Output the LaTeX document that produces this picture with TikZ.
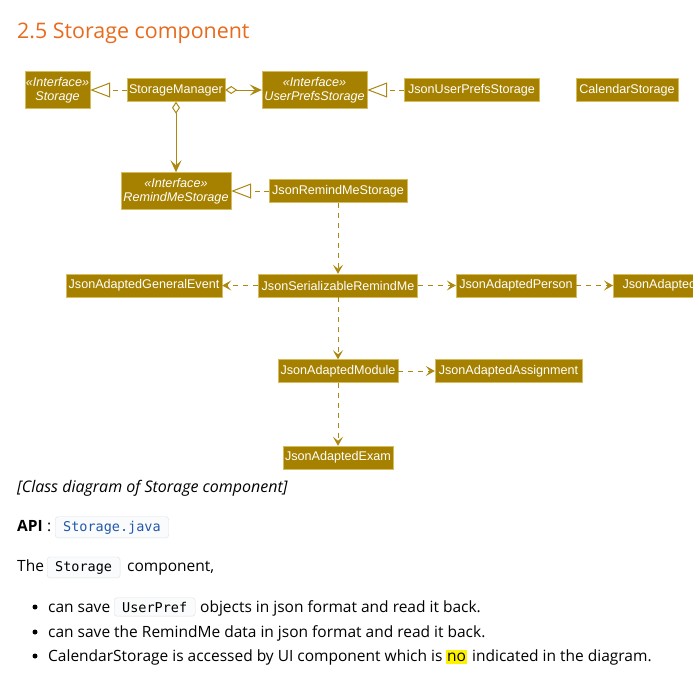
\documentclass[tikz,border=0pt]{standalone}
\usepackage{fontspec}
\setmainfont{Open Sans}
\setsansfont{Liberation Sans}
\setmonofont{DejaVu Sans Mono}
\usetikzlibrary{arrows.meta}

\definecolor{clsfill}{RGB}{166,129,0}
\definecolor{clsline}{RGB}{214,188,96}
\definecolor{linkcol}{RGB}{172,136,16}
\definecolor{titlecol}{RGB}{232,106,28}
\definecolor{codeblue}{RGB}{36,88,170}
\definecolor{codeedge}{RGB}{222,225,229}
\definecolor{codefill}{RGB}{250,251,252}

\tikzset{
	cls/.style={draw=clsline, fill=clsfill, text=white, inner sep=0pt,
		font=\sffamily\fontsize{12.6}{14}\selectfont, minimum height=23pt},
	iface/.style={cls, align=center, minimum height=37pt,
		font=\sffamily\itshape\fontsize{12.6}{14}\selectfont},
	impl/.style={draw=linkcol, line width=1pt, dash pattern=on 5pt off 4pt,
		-{Triangle[open, length=20pt, width=15pt]}},
	dep/.style={draw=linkcol, line width=1pt, dash pattern=on 5pt off 5pt,
		-{Stealth[length=9pt, width=10pt, inset=4pt]}},
	agg/.style={draw=linkcol, line width=1pt,
		{Diamond[open, length=12pt, width=8pt]}-{Stealth[length=12pt, width=11pt, inset=5pt]}},
	txt/.style={inner sep=0pt, anchor=base west, font=\fontsize{15.5}{18}\selectfont},
	code/.style={txt, draw=codeedge, fill=codefill, rounded corners=3pt,
		inner xsep=8pt, inner ysep=4pt, font=\ttfamily\fontsize{13.5}{16}\selectfont}
}

\begin{document}
\begin{tikzpicture}[x=1pt, y=-1pt]
		% Page frame
		\useasboundingbox[fill=white] (0,0) rectangle (693,685);
		\clip (0,0) rectangle (693,685);

		% Heading
		\node[txt, text=titlecol, font=\fontsize{21.4}{26}\selectfont] (title) at (17,39) {2.5 Storage component};

		% Interfaces
		\node[iface, minimum width=65pt] (storage) at (57.5,90) {«Interface»\\Storage};
		\node[iface, minimum width=105pt] (prefs) at (314.5,90) {«Interface»\\UserPrefsStorage};
		\node[iface, minimum width=110pt] (remind) at (176,191) {«Interface»\\RemindMeStorage};

		% Classes
		\node[cls, minimum width=98pt] (manager) at (176,90) {StorageManager};
		\node[cls, minimum width=135pt] (jsonprefs) at (471.5,90) {JsonUserPrefsStorage};
		\node[cls, minimum width=102pt] (calendar) at (627,90) {CalendarStorage};
		\node[cls, minimum width=138pt] (jsonremind) at (338,191) {JsonRemindMeStorage};
		\node[cls, minimum width=156pt] (event) at (144,285.5) {JsonAdaptedGeneralEvent};
		\node[cls, minimum width=159pt] (serial) at (338,285.5) {JsonSerializableRemindMe};
		\node[cls, minimum width=100pt, anchor=west, inner xsep=2pt] (adaptedt) at (613,285.5) {JsonAdaptedT};
		\node[cls, minimum width=120pt] (person) at (516,285.5) {JsonAdaptedPerson};
		\node[cls, minimum width=120pt] (module) at (338,371) {JsonAdaptedModule};
		\node[cls, minimum width=147pt] (assignment) at (508.5,371) {JsonAdaptedAssignment};
		\node[cls, minimum width=110pt] (exam) at (338,457.5) {JsonAdaptedExam};

		% Links
		\draw[impl] (manager) -- (storage);
		\draw[agg] (manager) -- (prefs);
		\draw[agg] (manager) -- (remind);
		\draw[impl] (jsonprefs) -- (prefs);
		\draw[impl] (jsonremind) -- (remind);
		\draw[dep] (jsonremind) -- (serial);
		\draw[dep] (serial) -- (event);
		\draw[dep] (serial) -- (person);
		\draw[dep] (person) -- (adaptedt);
		\draw[dep] (serial) -- (module);
		\draw[dep] (module) -- (assignment);
		\draw[dep] (module) -- (exam);

		% Text under the diagram
		\node[txt, font=\itshape\fontsize{16}{19}\selectfont] (caption) at (17,492) {[Class diagram of Storage component]};
		\node[txt, font=\bfseries\fontsize{15.5}{18}\selectfont] (api) at (17,531) {API};
		\node[txt] (colon) at ([xshift=4pt]api.base east) {:};
		\node[code, text=codeblue] (apifile) at (55,531) {Storage.java};
		\node[txt] (the) at (17,571) {The};
		\node[code] (storagecode) at (47,571) {Storage};
		\node[txt] (comp) at (127,571) {component,};

		% Bullet list
		\foreach \y in {607,632,656}
			\fill[black] (35,\y) circle (2.5pt);
		\node[txt] (save) at (48,612) {can save};
		\node[code] (prefcode) at (114,612) {UserPref};
		\node[txt] (objects) at (200,612) {objects in json format and read it back.};
		\node[txt] (remindline) at (48,637) {can save the RemindMe data in json format and read it back.};
		\node[txt] (calline) at (48,661) {CalendarStorage is accessed by UI component which is};
		\node[txt, fill=yellow, inner xsep=1pt, inner ysep=3pt] (no) at (446,661) {no};
		\node[txt] (rest) at (472,661) {indicated in the diagram.};

	\end{tikzpicture}
\end{document}
